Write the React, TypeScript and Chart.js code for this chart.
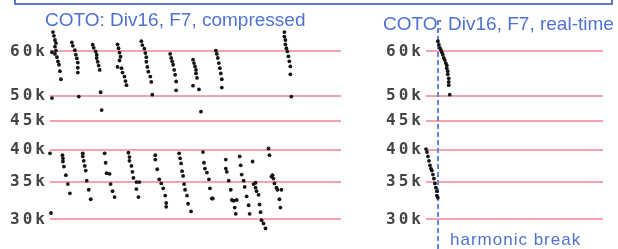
import React, { useEffect, useRef } from "react";
import { Chart, registerables } from "chart.js";

Chart.register(...registerables);

// Tick values (kHz, shown as "k")
const yTickValues = [30, 35, 40, 45, 50, 60];

// Compressed panel: time (s) and frequency (k)
const compressedHighT = [
  0.2, 0.2, 0.3, 0.4, 0.5, 0.6, 0.5, 0.6, 0.5, 0.7, 0.8, 0.9, 1.0, 1.1,
  2.2, 2.3, 2.5, 2.6, 2.7, 2.8, 2.8, 2.8, 2.9,
  4.3, 4.4, 4.6, 4.7, 4.7, 4.8, 4.9, 5.0, 5.1, 5.2,
  6.8, 6.9, 7.0, 7.1, 7.0, 6.8, 7.2, 7.3, 7.5, 7.6, 7.7,
  9.2, 9.3, 9.5, 9.6, 9.7, 9.7, 9.8, 9.9, 10.1, 10.2, 10.3,
  12.1, 12.2, 12.3, 12.4, 12.5, 12.6, 12.7, 12.7,
  14.4, 14.5, 14.6, 14.7, 14.7, 14.8, 14.4, 15.0, 15.2,
  16.7, 16.8, 16.9, 17.0, 17.1, 17.2, 17.3, 17.3,
  23.6, 23.6, 23.7, 23.7, 23.8, 23.9, 24.0, 24.1, 24.2, 24.2, 24.3,
];
const compressedHighF = [
  59.8, 49.5, 65.0, 64.0, 62.9, 62.1, 61.2, 60.2, 59.4, 58.6, 57.6, 56.8, 55.3, 53.5,
  62.3, 61.4, 60.3, 59.2, 58.3, 57.3, 56.1, 55.0, 49.8,
  61.7, 60.9, 60.0, 59.2, 58.4, 57.5, 56.6, 55.6, 50.7, 47.1,
  61.8, 60.8, 59.7, 58.7, 57.8, 56.3, 56.0, 55.0, 54.1, 53.1, 52.2,
  62.6, 61.6, 60.7, 59.6, 58.6, 57.5, 56.3, 55.2, 54.1, 52.9, 50.2,
  59.4, 58.4, 57.6, 56.8, 55.6, 54.5, 53.0, 51.1,
  58.0, 57.2, 56.4, 55.6, 54.8, 53.8, 52.1, 51.3, 46.8,
  60.2, 59.4, 58.4, 57.2, 56.0, 54.8, 53.5, 51.7,
  65.0, 63.8, 62.9, 61.8, 60.8, 60.0, 58.8, 57.6, 56.4, 54.6, 49.8,
];
const compressedLowT = [
  0.0, 0.1,
  1.25, 1.3, 1.3, 1.4, 1.6, 1.8, 2.0,
  3.3, 3.3, 3.4, 3.5, 3.6, 3.7, 3.9, 4.1,
  5.5, 5.6, 5.7, 6.0, 6.1, 6.3, 6.5,
  7.9, 8.0, 8.0, 8.2, 8.3, 8.4, 8.7, 9.0, 8.7, 8.9,
  10.6, 10.6, 10.8, 11.0, 11.2, 11.4, 11.6, 11.7, 11.7,
  13.0, 13.1, 13.2, 13.3, 13.4, 13.5, 13.6, 13.8, 13.9, 14.2,
  15.4, 15.5, 15.6, 15.8, 16.0, 16.1, 16.3, 16.4,
  17.7, 17.7, 17.8, 18.0, 18.2, 18.3, 18.5, 18.6, 18.7, 18.8,
  19.1, 19.2, 19.3, 19.5, 19.6, 19.8, 20.0, 20.1, 20.4,
  20.5, 20.7, 20.7, 20.8, 21.0, 21.1, 21.2, 21.3, 21.5, 21.7,
  22.0, 22.1, 22.3, 22.4, 22.5, 22.6, 22.8, 22.9, 23.3, 23.1, 23.2,
];
const compressedLowF = [
  39.4, 30.8,
  39.1, 38.6, 38.1, 37.3, 36.0, 34.7, 33.4,
  39.4, 38.9, 38.2, 37.4, 36.7, 35.2, 33.9, 32.6,
  39.4, 37.9, 36.3, 36.2, 34.7, 33.7, 32.9,
  39.5, 38.8, 38.2, 37.4, 36.5, 35.6, 35.0, 35.0, 34.0, 32.9,
  39.1, 38.4, 36.9, 35.4, 34.8, 34.1, 33.1, 32.1, 31.6,
  39.4, 38.6, 37.8, 36.6, 35.9, 34.7, 33.9, 33.1, 32.0, 31.0,
  39.6, 37.9, 37.0, 36.4, 35.4, 34.1, 32.7, 32.7,
  38.4, 37.0, 36.5, 35.2, 33.9, 32.5, 32.4, 31.5, 30.7, 32.5,
  38.9, 37.5, 36.1, 35.2, 34.3, 33.0, 31.8, 30.7, 38.1,
  34.7, 34.9, 34.2, 33.7, 33.2, 31.9, 30.9, 29.9, 29.5, 28.9,
  40.2, 39.1, 35.8, 36.0, 35.5, 34.8, 34.2, 33.9, 33.9, 32.6, 31.5,
];

// Real-time panel
const realtimeHighT = [1.2, 1.3, 1.4, 1.5, 1.6, 1.7, 1.8, 1.9, 2.0, 2.1, 2.1, 2.2, 2.2, 2.3, 2.3, 2.3, 2.4];
const realtimeHighF = [62.6, 61.7, 60.9, 60.4, 59.8, 59.2, 58.4, 57.9, 57.2, 56.7, 56.0, 55.3, 54.6, 53.7, 52.9, 52.2, 50.2];
const realtimeLowT = [0.0, 0.1, 0.2, 0.3, 0.4, 0.5, 0.6, 0.7, 0.8, 0.9, 1.0, 1.1, 1.1, 1.2];
const realtimeLowF = [40.1, 39.6, 38.9, 38.2, 37.5, 37.0, 36.7, 36.1, 35.5, 34.8, 34.2, 33.7, 33.1, 32.8];

const harmonicBreakT = 1.2;

const Y_MIN = 27.85;
const Y_MAX = 66.1;

const toPoints = (ts: number[], fs: number[]) => ts.map((t, i) => ({ x: t, y: fs[i] }));

const letterSpacingPlugin = {
  id: "tickSpacing",
  beforeDraw(chart: any) {
    (chart.ctx as any).letterSpacing = "3px";
  },
};

function makeOptions(xMax: number) {
  return {
    responsive: false,
    animation: false as const,
    layout: { padding: { top: 28, bottom: 9, left: 0, right: 2 } },
    plugins: { legend: { display: false }, tooltip: { enabled: false } },
    scales: {
      x: { type: "linear" as const, display: false, min: 0, max: xMax },
      y: {
        type: "logarithmic" as const,
        min: Y_MIN,
        max: Y_MAX,
        afterBuildTicks: (s: any) => {
          s.ticks = yTickValues.map((v) => ({ value: v }));
        },
        afterFit: (s: any) => {
          s.width = 50;
        },
        ticks: {
          autoSkip: false,
          padding: 2,
          color: "#444444",
          font: { family: "'DejaVu Sans Mono', monospace", size: 16, weight: "bold" },
          callback: (v: any) => v + "k",
        },
        grid: { color: "#f5a3ae", lineWidth: 2, drawTicks: false },
        border: { display: false },
      },
    },
  };
}

const dotStyle = {
  pointRadius: 1.9,
  pointBackgroundColor: "#151515",
  pointBorderWidth: 0,
  showLine: false,
  clip: false as any,
};

export default function App() {
  const leftRef = useRef<HTMLCanvasElement>(null);
  const rightRef = useRef<HTMLCanvasElement>(null);

  useEffect(() => {
    const left = new Chart(leftRef.current!, {
      type: "scatter",
      data: {
        datasets: [
          { data: toPoints(compressedHighT, compressedHighF), ...dotStyle },
          { data: toPoints(compressedLowT, compressedLowF), ...dotStyle },
        ],
      },
      options: makeOptions(29.3) as any,
      plugins: [letterSpacingPlugin],
    });

    const breakPlugin = {
      id: "harmonicBreak",
      beforeDatasetsDraw(chart: any) {
        const ctx = chart.ctx;
        const x = Math.round(chart.scales.x.getPixelForValue(harmonicBreakT));
        ctx.save();
        ctx.strokeStyle = "#5d86e0";
        ctx.lineWidth = 2;
        ctx.setLineDash([5, 3]);
        ctx.beginPath();
        ctx.moveTo(x, 20);
        ctx.lineTo(x, chart.height);
        ctx.stroke();
        ctx.restore();
      },
    };

    const right = new Chart(rightRef.current!, {
      type: "scatter",
      data: {
        datasets: [
          { data: toPoints(realtimeHighT, realtimeHighF), ...dotStyle },
          { data: toPoints(realtimeLowT, realtimeLowF), ...dotStyle },
        ],
      },
      options: makeOptions(17.9) as any,
      plugins: [letterSpacingPlugin, breakPlugin],
    });

    return () => {
      left.destroy();
      right.destroy();
    };
  }, []);

  const titleStyle: React.CSSProperties = {
    position: "absolute",
    fontFamily: "'Liberation Sans', Arial, sans-serif",
    fontSize: 19,
    lineHeight: "19px",
    color: "#4f72d2",
    whiteSpace: "nowrap",
  };

  return (
    <div
      style={{
        position: "fixed",
        left: 0,
        top: 0,
        width: 618,
        height: 249,
        background: "#fff",
        overflow: "hidden",
      }}
    >
      <div
        style={{
          position: "absolute",
          left: 14,
          top: -10,
          width: 595,
          height: 11,
          border: "2px solid #5a78c8",
        }}
      />
      <canvas
        ref={leftRef}
        width={345}
        height={249}
        style={{ position: "absolute", left: 0, top: 0, width: 345, height: 249 }}
      />
      <canvas
        ref={rightRef}
        width={231}
        height={249}
        style={{ position: "absolute", left: 376, top: 0, width: 231, height: 249 }}
      />
      <div style={{ ...titleStyle, left: 45, top: 10 }}>COTO: Div16, F7, compressed</div>
      <div style={{ ...titleStyle, left: 383, top: 14 }}>COTO: Div16, F7, real-time</div>
      <div
        style={{
          ...titleStyle,
          left: 450,
          top: 231,
          fontSize: 17,
          lineHeight: "17px",
          letterSpacing: "1px",
        }}
      >
        harmonic break
      </div>
    </div>
  );
}
